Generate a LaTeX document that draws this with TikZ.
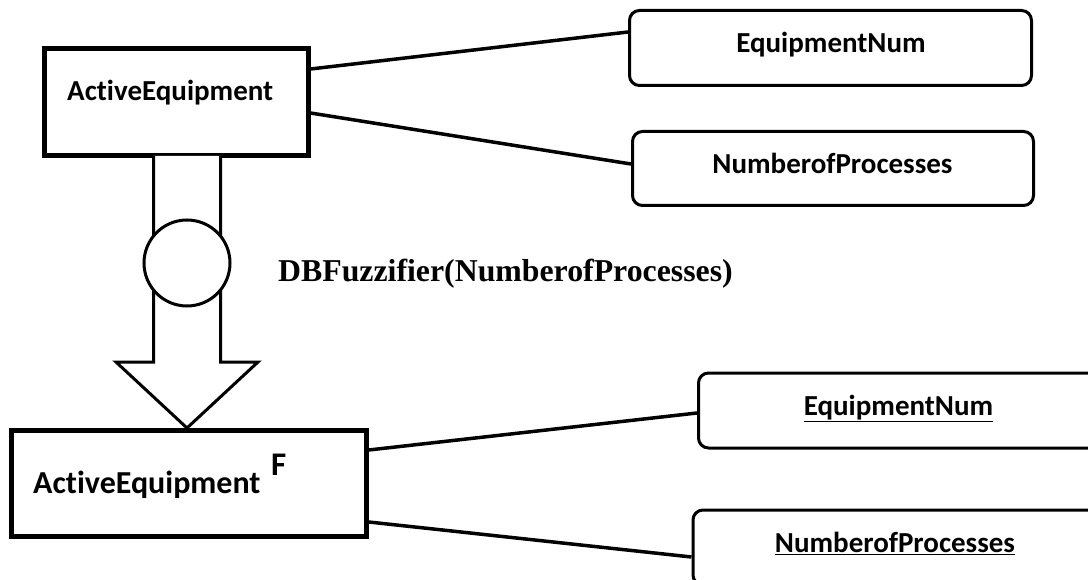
\documentclass[tikz,border=0pt]{standalone}
\usepackage{fontspec}
\newfontfamily\calib[Ligatures=NoCommon]{Carlito}
\newfontfamily\tms{Liberation Serif}
\begin{document}
\begin{tikzpicture}[x=1pt,y=-1pt,
  entity/.style={draw,line width=5pt,rectangle,inner sep=0pt},
  attrbox/.style={draw,line width=3pt,rounded corners=10pt,rectangle,inner sep=0pt},
  lbl/.style={inner sep=0pt,font=\calib\bfseries\fontsize{29}{34}\selectfont},
  link/.style={line width=3.5pt},
  hollow/.style={line width=3pt,fill=white,line join=miter}]
\clip (0,0) rectangle (1088,580);
\fill[white] (0,0) rectangle (1088,580);

% entity boxes
\node[entity,minimum width=264pt,minimum height=107pt] (top) at (176,102.5) {};
\node[lbl,anchor=base west] (toptxt) at (67,101) {ActiveEquipment};

\node[entity,minimum width=354.5pt,minimum height=106pt] (bot) at (189,483.5) {};
\node[lbl,anchor=base west,font=\calib\bfseries\fontsize{32}{38}\selectfont] (bottxt) at (33,493) {ActiveEquipment};
\node[lbl,anchor=base west,font=\calib\bfseries\fontsize{33}{38}\selectfont] (fsup) at (271,475) {F};

% attribute boxes
\node[attrbox,minimum width=402pt,minimum height=75pt] (a1) at (830.5,48) {};
\node[lbl,anchor=base] at (831,53) {EquipmentNum};
\node[attrbox,minimum width=401pt,minimum height=74pt] (a2) at (833,168.5) {};
\node[lbl,anchor=base] at (832.5,174) {NumberofProcesses};
\node[attrbox,minimum width=402pt,minimum height=75pt] (a3) at (899.5,410.5) {};
\node[lbl,anchor=base] at (898.5,415) {\underline{EquipmentNum}};
\node[attrbox,minimum width=404pt,minimum height=75pt] (a4) at (895,547.5) {};
\node[lbl,anchor=base] at (895,552.7) {\underline{NumberofProcesses}};

% links between entities and attributes
\draw[link] ([yshift=33.5pt]top.east) -- ([yshift=16pt]a1.west);
\draw[link] ([yshift=-10.5pt]top.east) -- ([yshift=4.5pt]a2.west);
\draw[link] ([yshift=33.5pt]bot.east) -- ([yshift=-2.5pt]a3.west);
\draw[link] ([yshift=-38.5pt]bot.east) -- ([yshift=-9.5pt]a4.west);

% hollow transformation arrow with operator circle
\coordinate (sl) at (153.5,156);
\coordinate (sr) at (220.5,156);
\draw[hollow] (sl) -- (153.5,362) -- (116,362) -- (bot.north -| 187,0) -- (258,362) -- (220.5,362) -- (sr);
\node[draw,circle,line width=3pt,fill=white,minimum size=86pt,inner sep=0pt] (op) at (187,263) {};
\node[inner sep=0pt,anchor=base west,font=\tms\bfseries\fontsize{31.8}{36}\selectfont] (fz) at (278,282) {DBFuzzifier(NumberofProcesses)};
\end{tikzpicture}
\end{document}
